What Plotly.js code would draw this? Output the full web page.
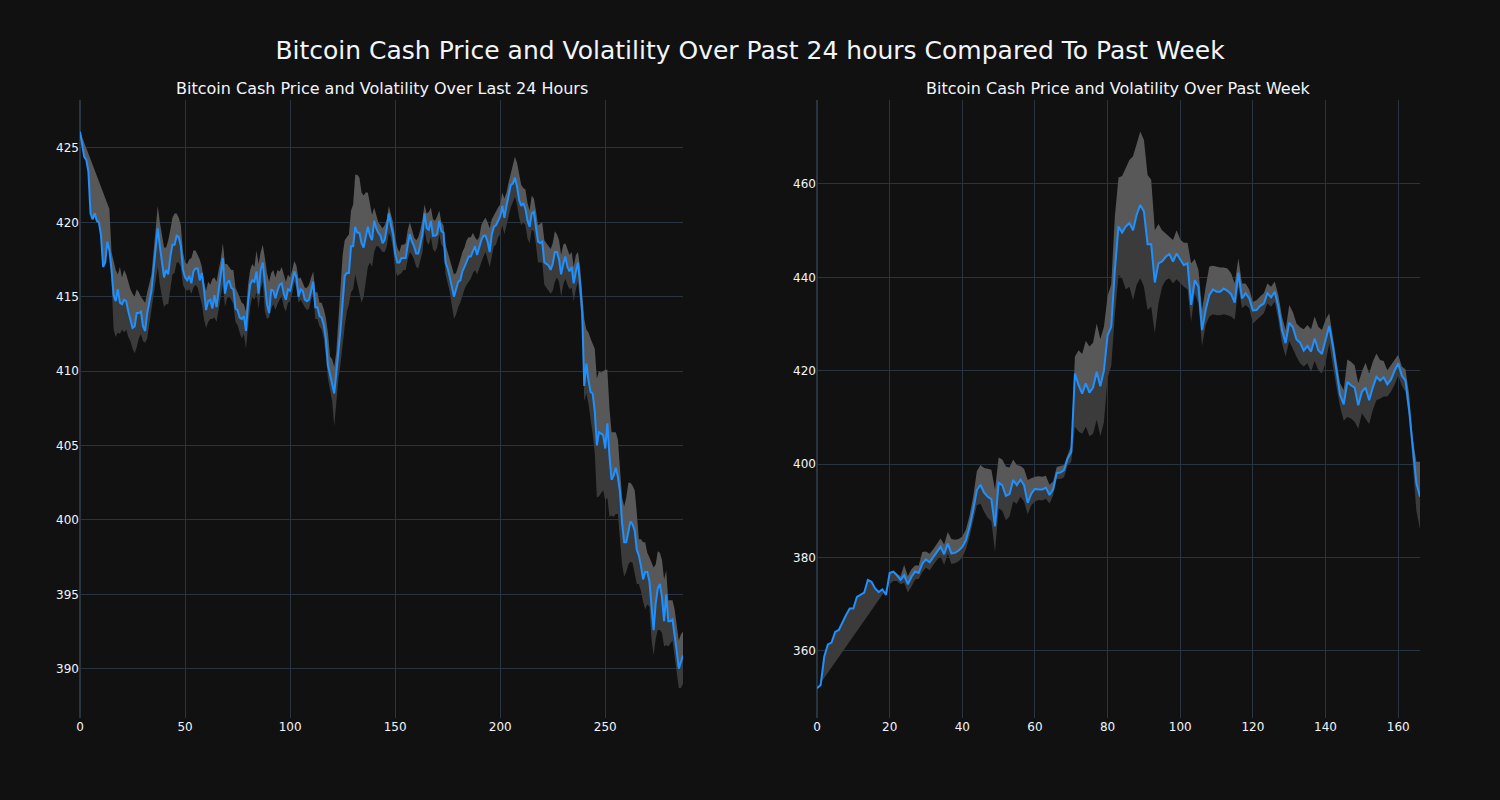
<!DOCTYPE html>
<html>
<head>
<meta charset="utf-8">
<script src="https://cdn.plot.ly/plotly-3.0.1.min.js"></script>
<style>html,body{margin:0;padding:0;background:#111111;}#chart{width:1500px;height:800px;}</style>
</head>
<body>
<div id="chart"></div>
<script>
// ---- Last 24 hours (5-minute steps) ----
const dayPrice = [426.1,425.2,424.4,424.2,423.4,420.6,420.2,420.6,420.1,420.0,
 419.1,417.0,417.3,418.7,418.1,416.8,415.1,414.7,415.5,414.6,
 414.5,414.8,414.7,414.0,413.4,412.9,413.0,413.9,413.9,414.0,
 413.0,412.7,413.9,414.8,415.4,416.8,418.4,419.6,418.4,417.5,
 416.3,416.8,416.5,417.7,418.5,418.5,419.1,419.0,418.4,416.8,
 416.3,416.1,416.4,415.9,416.7,416.9,416.9,416.1,416.6,415.5,
 414.1,414.7,414.8,414.2,415.1,414.3,415.5,416.5,417.6,415.2,
 415.9,416.1,415.6,415.5,414.2,414.1,413.6,413.5,413.7,412.7,
 414.6,415.8,416.1,416.0,416.7,415.2,416.8,417.3,415.7,414.5,
 413.9,415.5,415.4,414.9,415.4,415.8,415.9,415.2,414.8,415.5,
 415.4,416.0,416.7,416.3,415.0,415.5,415.4,414.8,414.7,414.8,
 415.5,416.0,414.3,414.3,413.7,413.6,413.1,412.2,410.4,409.7,
 409.2,408.5,409.9,411.2,412.8,414.6,416.4,416.6,416.6,418.4,
 418.4,419.7,419.3,419.3,418.6,418.3,419.0,419.7,419.1,418.8,
 420.1,419.6,419.3,419.1,418.6,418.8,419.6,420.6,419.8,419.2,
 417.9,417.3,417.3,417.6,417.6,417.6,418.5,419.2,418.7,418.4,
 417.9,417.9,418.5,419.2,420.6,419.6,419.5,420.1,419.1,419.1,
 419.2,420.1,419.4,419.3,417.3,416.9,416.3,415.7,415.0,415.5,
 416.0,416.1,416.7,417.0,417.3,417.7,417.7,418.1,418.4,417.8,
 418.4,418.8,419.1,419.1,418.7,418.0,419.2,419.7,419.8,420.1,
 420.4,421.1,420.3,421.1,421.7,422.5,422.6,423.0,422.4,421.5,
 421.1,421.3,420.9,420.1,419.7,420.6,420.7,419.7,418.7,418.6,
 418.7,417.3,417.2,417.1,416.8,417.2,418.0,418.0,417.5,416.5,
 417.2,417.7,417.0,416.7,417.0,415.9,416.7,417.3,415.9,414.0,
 409.0,410.5,409.4,408.6,408.5,407.3,405.0,405.9,405.8,405.7,
 404.8,406.5,404.3,402.7,403.0,403.5,402.9,401.9,399.8,398.5,
 398.5,399.2,399.9,399.7,399.3,398.0,397.6,396.9,396.0,396.5,
 396.5,395.9,394.2,392.6,394.4,395.4,395.7,394.8,393.2,395.0,
 393.2,393.2,393.3,392.4,391.2,390.0,390.5,390.9];

const dayUpper = [426.1,null,null,null,null,null,null,null,null,null,
 null,null,null,null,420.9,418.0,417.3,416.8,416.5,417.0,
 416.3,416.8,416.5,416.0,415.5,415.2,415.0,415.5,415.3,415.0,
 414.8,414.6,415.3,416.0,416.5,418.0,419.8,421.1,420.0,419.0,
 418.3,418.3,418.8,419.5,420.3,420.6,420.6,420.3,419.8,418.0,
 417.3,417.2,417.5,417.6,418.1,418.1,417.8,417.5,417.0,416.0,
 415.4,416.0,415.8,416.2,416.3,416.0,416.8,417.5,418.6,417.2,
 417.2,417.0,416.8,416.8,415.6,415.3,415.0,414.6,414.5,414.0,
 415.8,416.8,417.2,417.0,418.1,417.2,418.0,418.5,417.6,416.6,
 416.0,416.6,416.8,416.3,416.8,416.7,417.0,416.4,416.0,416.5,
 416.3,416.8,417.4,417.1,416.2,416.3,416.0,415.6,415.6,415.8,
 416.3,416.7,415.3,415.3,414.6,414.6,414.2,413.6,412.6,411.0,
 410.8,410.3,411.3,413.5,415.8,417.8,418.8,419.0,419.2,420.8,
 421.2,423.2,423.2,423.0,422.0,421.8,422.0,422.0,421.2,420.5,
 421.0,420.5,420.0,419.8,419.6,419.8,420.2,421.1,420.6,420.0,
 419.0,418.3,418.0,418.5,418.5,418.6,419.5,420.0,419.5,419.0,
 418.8,419.0,419.5,420.2,421.2,420.6,420.7,421.0,420.2,420.1,
 420.4,420.8,420.0,419.8,418.5,418.0,417.5,417.0,416.5,416.6,
 417.0,417.5,418.0,418.3,418.8,419.0,419.0,419.3,419.0,418.8,
 419.0,419.8,420.1,420.3,420.0,419.6,420.2,420.5,420.8,421.0,
 421.2,422.0,421.6,422.0,422.7,423.3,424.0,424.4,424.0,423.3,
 422.5,422.3,422.2,421.3,420.8,421.8,421.6,420.8,419.8,419.9,
 420.0,418.8,418.6,418.4,418.2,418.6,419.4,419.2,418.8,417.8,
 418.5,418.6,418.2,417.8,418.0,417.0,417.8,418.0,417.0,415.5,
 413.5,412.8,412.6,412.2,411.9,411.5,409.5,410.0,409.9,410.0,
 410.1,410.1,407.5,405.9,405.9,405.9,405.4,403.6,401.5,400.9,
 401.5,402.5,402.5,402.3,402.0,400.5,398.7,398.7,398.5,398.5,
 397.8,397.5,397.1,396.8,397.0,397.9,397.8,397.3,396.0,396.6,
 394.6,394.6,394.6,394.0,393.0,391.9,392.3,392.5];

const dayLower = [null,null,null,null,null,null,null,null,null,null,
 null,null,null,null,418.1,416.0,412.8,412.3,412.6,412.5,
 412.8,412.6,412.8,412.3,412.0,411.5,411.2,411.6,412.2,412.5,
 412.0,411.9,412.2,413.2,414.0,415.0,416.0,417.0,415.8,415.0,
 414.3,414.5,414.5,415.5,416.5,416.6,417.3,417.3,417.0,415.8,
 415.5,415.4,415.5,415.2,415.6,415.8,415.6,415.0,414.5,413.5,
 412.9,413.3,413.5,413.5,413.6,413.3,414.2,415.0,415.8,414.3,
 414.9,415.0,414.8,414.5,413.3,413.1,412.6,412.2,412.5,411.5,
 413.0,414.3,415.0,414.8,415.3,414.2,415.5,416.0,414.0,413.5,
 413.6,414.2,414.5,414.1,414.5,414.8,415.0,414.3,414.0,414.6,
 414.7,415.2,416.0,415.6,414.6,414.8,414.6,414.3,414.1,414.2,
 414.8,415.2,413.5,413.5,413.0,412.8,412.2,411.0,409.5,408.8,
 408.0,406.3,408.0,409.5,410.5,411.5,413.0,414.0,414.5,415.3,
 415.5,416.5,416.0,415.3,414.6,415.0,416.0,417.0,417.3,417.0,
 418.0,418.4,418.4,418.2,418.0,418.0,418.4,419.3,419.0,418.2,
 416.8,416.4,416.5,416.6,416.8,416.8,417.5,418.0,417.8,417.5,
 417.0,416.9,417.4,418.0,419.5,418.7,418.5,419.0,418.2,418.0,
 418.3,419.2,418.5,418.3,416.5,415.9,415.3,414.5,413.5,413.8,
 414.3,414.6,415.0,415.5,415.8,416.0,416.2,416.6,416.8,416.5,
 416.8,417.3,417.7,418.0,417.5,417.0,417.7,418.4,418.5,419.0,
 419.2,419.8,419.2,419.8,420.4,421.0,421.3,421.7,421.2,420.3,
 419.8,420.0,419.8,418.9,418.6,419.5,419.4,418.5,417.3,417.3,
 417.3,415.8,415.6,415.4,415.2,415.4,416.0,416.3,416.0,415.0,
 415.8,416.2,415.8,415.5,415.6,414.7,415.5,416.0,414.8,413.2,
 408.0,408.5,407.8,407.0,405.8,404.5,401.5,401.6,401.8,402.0,
 401.3,401.5,400.2,400.3,400.2,400.4,400.4,398.5,397.0,396.2,
 396.5,397.0,397.2,397.1,396.5,395.7,395.7,395.2,394.5,394.0,
 394.3,394.2,392.0,390.9,392.0,392.6,392.6,392.4,391.5,391.6,
 391.5,391.7,391.9,390.8,389.8,388.7,388.7,389.0];

// ---- Past week (hourly steps) ----
const weekPrice = [352.0,352.7,358.8,361.4,361.8,364.1,364.5,366.3,367.7,369.1,
 369.1,371.6,372.1,372.5,375.2,374.8,373.4,372.6,373.2,372.0,
 376.7,377.0,376.2,375.2,376.2,374.3,375.9,377.0,376.7,378.7,
 379.6,379.0,380.1,381.2,382.3,380.7,383.0,380.9,381.0,381.5,
 382.3,383.7,386.6,390.2,394.4,395.6,393.9,393.0,392.5,386.7,
 396.0,395.5,393.2,393.6,396.6,395.5,396.7,395.5,391.7,393.7,
 394.7,394.6,394.6,395.0,393.4,394.6,398.1,398.2,398.7,401.2,
 402.6,419.4,416.9,415.1,417.3,415.3,416.4,419.8,416.7,420.1,
 427.6,429.4,441.6,450.9,449.6,450.9,451.6,450.1,453.4,455.5,
 454.1,447.1,447.1,438.9,443.0,443.4,444.4,445.0,443.4,445.1,
 443.7,442.6,443.0,434.1,439.4,438.0,428.7,433.0,436.2,437.4,
 436.9,436.9,437.6,437.1,436.4,434.6,441.0,435.5,436.6,435.5,
 432.9,433.0,433.9,434.4,436.6,435.7,436.9,433.7,428.7,425.9,
 430.3,429.3,426.7,426.0,424.3,425.3,424.1,426.9,424.4,423.6,
 426.6,429.6,425.3,420.1,414.8,412.8,417.6,416.9,416.4,412.6,
 415.5,416.4,413.7,416.4,418.7,417.9,418.6,417.1,418.1,420.0,
 421.6,418.9,417.9,411.6,403.0,395.9,393.0];

const weekUpper = [null,null,null,null,null,null,null,null,null,null,
 null,null,null,null,null,null,null,null,null,null,
 376.7,377.2,376.6,376.0,378.4,376.0,377.5,378.3,378.3,381.2,
 381.3,380.8,381.8,383.0,384.1,382.8,385.5,384.0,383.8,384.0,
 384.5,386.0,389.0,393.0,398.5,399.8,399.2,399.0,398.8,394.5,
 401.4,401.0,399.5,399.3,401.0,399.8,399.6,399.0,396.6,397.0,
 397.3,397.4,397.3,397.5,395.6,396.3,399.4,399.6,399.8,402.0,
 404.0,423.0,424.4,423.6,426.4,425.2,426.0,430.1,426.8,429.5,
 436.0,438.5,453.0,461.4,461.7,463.4,465.1,465.9,468.4,471.2,
 469.4,461.9,460.9,450.1,451.4,450.1,449.4,448.7,448.0,450.1,
 448.1,447.4,447.4,443.0,443.9,441.6,433.0,438.0,442.3,442.5,
 442.3,442.1,442.1,441.9,440.9,438.7,444.1,438.7,438.7,437.4,
 434.8,435.1,435.9,436.6,438.7,438.0,439.1,436.2,431.6,428.7,
 434.1,432.6,430.1,429.3,428.9,429.8,428.9,431.6,429.4,428.7,
 430.9,432.3,427.3,422.3,417.3,415.9,422.4,421.9,421.2,417.3,
 419.8,421.7,419.4,421.9,423.7,422.3,422.1,420.1,421.2,422.3,
 423.4,420.9,420.3,415.0,405.5,400.5,400.5];

const weekLower = [352.0,null,null,null,null,null,null,null,null,null,
 null,null,null,null,null,null,null,null,null,null,
 374.3,375.0,375.0,374.3,374.6,372.5,373.8,375.3,375.4,376.9,
 377.8,377.3,378.3,379.5,380.3,378.4,380.8,378.6,378.8,379.2,
 380.0,381.8,384.5,387.8,391.2,391.5,389.8,388.5,387.8,381.2,
 390.5,390.0,388.0,388.8,392.0,391.5,393.0,392.0,389.3,391.2,
 392.0,392.3,392.2,392.6,391.6,393.3,396.9,396.8,397.2,399.7,
 400.5,408.0,407.0,406.5,408.0,406.0,406.5,409.5,406.0,409.0,
 418.5,421.0,432.0,440.5,439.8,437.4,438.0,435.1,438.4,439.8,
 438.0,433.0,433.7,428.0,434.4,438.0,439.4,439.8,438.7,439.6,
 438.7,438.0,437.4,430.5,436.6,434.4,425.3,429.8,431.6,432.1,
 431.9,431.9,432.1,431.9,431.6,430.9,438.0,433.4,434.1,433.4,
 430.1,430.9,431.6,432.3,434.4,433.7,434.8,430.9,425.9,423.0,
 426.4,424.8,423.0,421.6,420.9,421.6,419.8,422.1,420.1,419.4,
 421.6,425.9,421.6,416.6,412.3,409.3,410.1,409.8,409.1,407.6,
 410.9,409.8,408.6,411.6,413.7,414.0,414.5,414.5,415.5,417.0,
 419.0,416.8,415.5,410.0,399.5,390.0,386.0];

const mainTitle = 'Bitcoin Cash Price and Volatility Over Past 24 hours Compared To Past Week';
const leftTitle = 'Bitcoin Cash Price and Volatility Over Last 24 Hours';
const rightTitle = 'Bitcoin Cash Price and Volatility Over Past Week';

const LIGHT = '#585858', DARK = '#3b3b3b', LINE = '#1e90ff';

function idx(n){ return Array.from({length:n}, (_, i) => i); }

function bandTraces(price, upper, lower, xa, ya){
  const n = price.length, xs = idx(n);
  const lx = [], ly = []; let fu = -1;
  for (let i = 0; i < n; i++) if (upper[i] !== null) { lx.push(xs[i]); ly.push(upper[i]); if (fu < 0) fu = i; }
  for (let i = n - 1; i >= fu; i--) { lx.push(xs[i]); ly.push(price[i]); }
  const dx = [], dy = []; let fl = -1;
  for (let i = 0; i < n; i++) if (lower[i] !== null) { fl = i; break; }
  for (let i = fl; i < n; i++) { dx.push(xs[i]); dy.push(price[i]); }
  for (let i = n - 1; i >= 0; i--) if (lower[i] !== null) { dx.push(xs[i]); dy.push(lower[i]); }
  return [
    {x: lx, y: ly, xaxis: xa, yaxis: ya, type: 'scatter', mode: 'lines', fill: 'toself',
     fillcolor: LIGHT, line: {width: 0, color: LIGHT}, hoverinfo: 'skip'},
    {x: dx, y: dy, xaxis: xa, yaxis: ya, type: 'scatter', mode: 'lines', fill: 'toself',
     fillcolor: DARK, line: {width: 0, color: DARK}, hoverinfo: 'skip'},
    {x: xs, y: price, xaxis: xa, yaxis: ya, type: 'scatter', mode: 'lines',
     line: {width: 2, color: LINE}}
  ];
}

const data = [].concat(
  bandTraces(dayPrice, dayUpper, dayLower, 'x', 'y'),
  bandTraces(weekPrice, weekUpper, weekLower, 'x2', 'y2')
);

const FONT = 'DejaVu Sans, sans-serif';
const TXT = '#f2f5fa';
const GRID = '#283442';
const axisBase = {
  showgrid: true, gridcolor: GRID, gridwidth: 1, zeroline: true, zerolinecolor: GRID,
  zerolinewidth: 2, showline: false, ticks: '', tickfont: {family: FONT, size: 12, color: TXT}
};

const layout = {
  width: 1500, height: 800,
  paper_bgcolor: '#111111', plot_bgcolor: '#111111',
  margin: {l: 0, r: 0, t: 0, b: 0},
  showlegend: false, hovermode: false,
  font: {family: FONT, color: TXT},
  title: {text: mainTitle, x: 0.5, xanchor: 'center', xref: 'paper', yref: 'container',
          y: 1 - 50/800, yanchor: 'middle', font: {family: FONT, size: 25, color: TXT}},
  xaxis: Object.assign({}, axisBase, {domain: [80/1500, 683/1500], range: [0, 287], dtick: 50, tick0: 0}),
  yaxis: Object.assign({}, axisBase, {domain: [82/800, 700/800], range: [386.69, 428.22], dtick: 5, tick0: 0, zeroline: false}),
  xaxis2: Object.assign({}, axisBase, {domain: [817/1500, 1420/1500], range: [0, 166], dtick: 20, tick0: 0, anchor: 'y2'}),
  yaxis2: Object.assign({}, axisBase, {domain: [82/800, 700/800], range: [345.65, 477.97], dtick: 20, tick0: 0, anchor: 'x2', zeroline: false}),
  annotations: [
    {text: leftTitle, xref: 'paper', yref: 'paper', x: (80+683)/2/1500, y: 1 - 89/800,
     xanchor: 'center', yanchor: 'middle', showarrow: false, font: {family: FONT, size: 16, color: TXT}},
    {text: rightTitle, xref: 'paper', yref: 'paper', x: (817+1420)/2/1500, y: 1 - 89/800,
     xanchor: 'center', yanchor: 'middle', showarrow: false, font: {family: FONT, size: 16, color: TXT}}
  ]
};

Plotly.newPlot('chart', data, layout, {staticPlot: true, displayModeBar: false});
</script>
</body>
</html>
